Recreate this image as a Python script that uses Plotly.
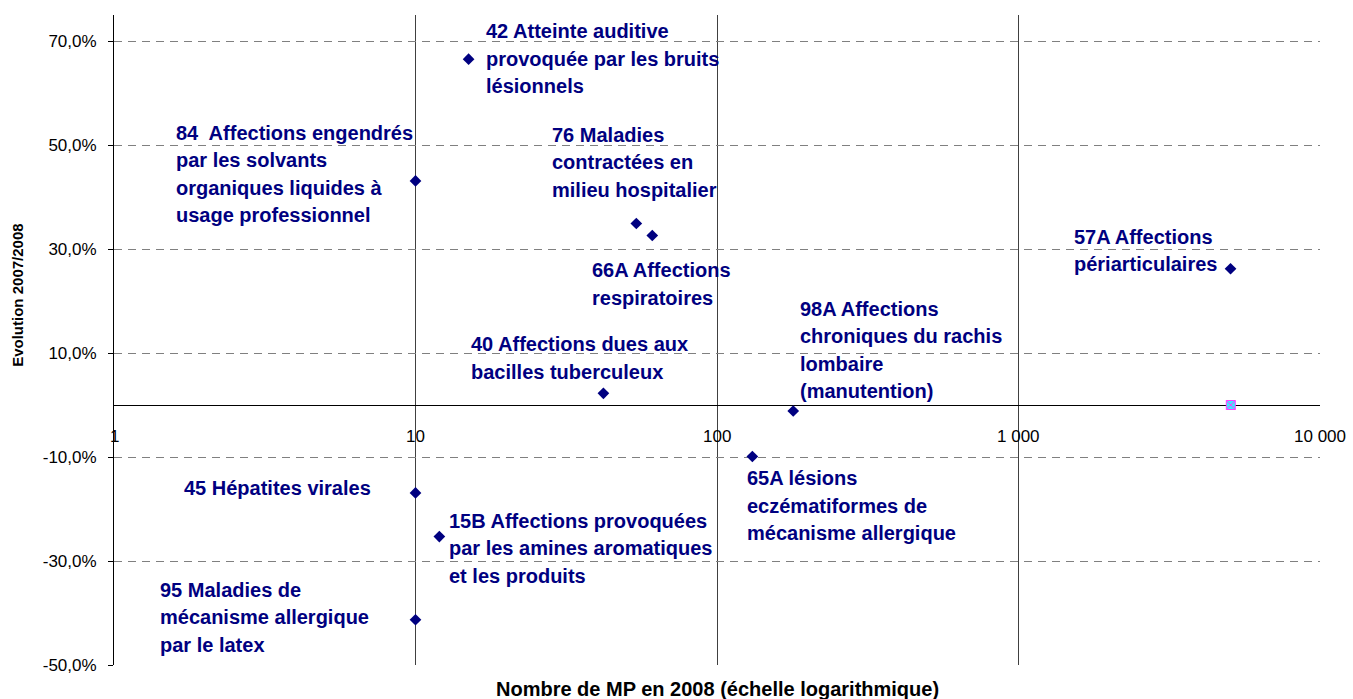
import math
import plotly.graph_objects as go

# ---- data ----
labels = [
    "42 Atteinte auditive<br>provoquée par les bruits<br>lésionnels",
    "84  Affections engendrés<br>par les solvants<br>organiques liquides à<br>usage professionnel",
    "76 Maladies<br>contractées en<br>milieu hospitalier",
    "66A Affections<br>respiratoires",
    "57A Affections<br>périarticulaires",
    "40 Affections dues aux<br>bacilles tuberculeux",
    "98A Affections<br>chroniques du rachis<br>lombaire<br>(manutention)",
    "65A lésions<br>eczématiformes de<br>mécanisme allergique",
    "45 Hépatites virales",
    "15B Affections provoquées<br>par les amines aromatiques<br>et les produits",
    "95 Maladies de<br>mécanisme allergique<br>par le latex",
]
mp_2008 = [15, 10, 54, 61, 5050, 42, 179, 131, 10, 12, 10]
evolution = [0.665, 0.431, 0.349, 0.326, 0.262, 0.0225, -0.0115, -0.099, -0.169, -0.253, -0.413]

special_x = [5060]
special_y = [0.0]

x_tickvals = [1, 10, 100, 1000, 10000]
x_ticktext = ["1", "10", "100", "1 000", "10 000"]
y_tickvals = [-0.5, -0.3, -0.1, 0.1, 0.3, 0.5, 0.7]
y_ticktext = [f"{v * 100:.1f}%".replace(".", ",") for v in y_tickvals]

# label offsets (pixels from the point: left edge, first line centre)
label_dx = [15, -242, -86, -62, -159, -134, 5, -7, -234, 8, -258]
label_dy = [-28, -48, -89, 35, -32, -49, -102, 22, -5, -16, -30]
LINE = 27.5

NAVY = "#000080"
FONT = "Liberation Sans, Arial, sans-serif"

fig = go.Figure()
fig.add_trace(go.Scatter(
    x=mp_2008, y=evolution, mode="markers",
    marker=dict(symbol="diamond", size=9, color=NAVY),
    showlegend=False, hoverinfo="x+y"))
fig.add_trace(go.Scatter(
    x=special_x, y=special_y, mode="markers",
    marker=dict(symbol="square-x", size=9, color="#40e8ff",
                line=dict(color="#ff40ff", width=1)),
    showlegend=False))

annotations = []
for lab, xv, yv, dx, dy in zip(labels, mp_2008, evolution, label_dx, label_dy):
    for i, line in enumerate(lab.split("<br>")):
        annotations.append(dict(
            x=math.log10(xv), y=yv, xref="x", yref="y", text=line,
            showarrow=False, xanchor="left", yanchor="middle",
            xshift=dx, yshift=-(dy + i * LINE),
            font=dict(family=FONT, size=20, color=NAVY, weight="bold")))

for v, t in zip(x_tickvals, x_ticktext):
    annotations.append(dict(
        x=math.log10(v), y=0, xref="x", yref="y", text=t, showarrow=False,
        xanchor="center", yanchor="middle", yshift=-31,
        font=dict(family=FONT, size=17, color="black")))

annotations.append(dict(
    x=0.5, y=-0.037, xref="paper", yref="paper", showarrow=False,
    text="Nombre de MP en 2008 (échelle logarithmique)",
    xanchor="center", yanchor="middle",
    font=dict(family=FONT, size=20, color="black", weight="bold")))
annotations.append(dict(
    x=-0.0796, y=0.568, xref="paper", yref="paper", showarrow=False,
    text="Evolution 2007/2008", textangle=-90,
    xanchor="center", yanchor="middle",
    font=dict(family=FONT, size=15, color="black", weight="bold")))

fig.update_layout(
    width=1353, height=699,
    margin=dict(l=114, r=33, t=15, b=34),
    paper_bgcolor="white", plot_bgcolor="white",
    annotations=annotations,
    xaxis=dict(type="log", range=[0, 4], tickvals=x_tickvals,
               showticklabels=False, showgrid=True, gridcolor="#404040",
               gridwidth=1, showline=False, zeroline=False, ticks=""),
    yaxis=dict(range=[-0.5, 0.75], tickvals=y_tickvals, ticktext=y_ticktext,
               showgrid=True, gridcolor="#808080", griddash="8px,6px",
               gridwidth=1, showline=True, linecolor="black", linewidth=1,
               zeroline=True, zerolinecolor="black", zerolinewidth=1.3,
               ticks="outside", ticklen=5, tickcolor="black",
               ticklabelstandoff=8,
               tickfont=dict(family=FONT, size=17, color="black")),
)

fig.write_html("out.html", config={"displayModeBar": False},
               post_script="document.body.style.margin='0';document.body.style.overflow='hidden';")
